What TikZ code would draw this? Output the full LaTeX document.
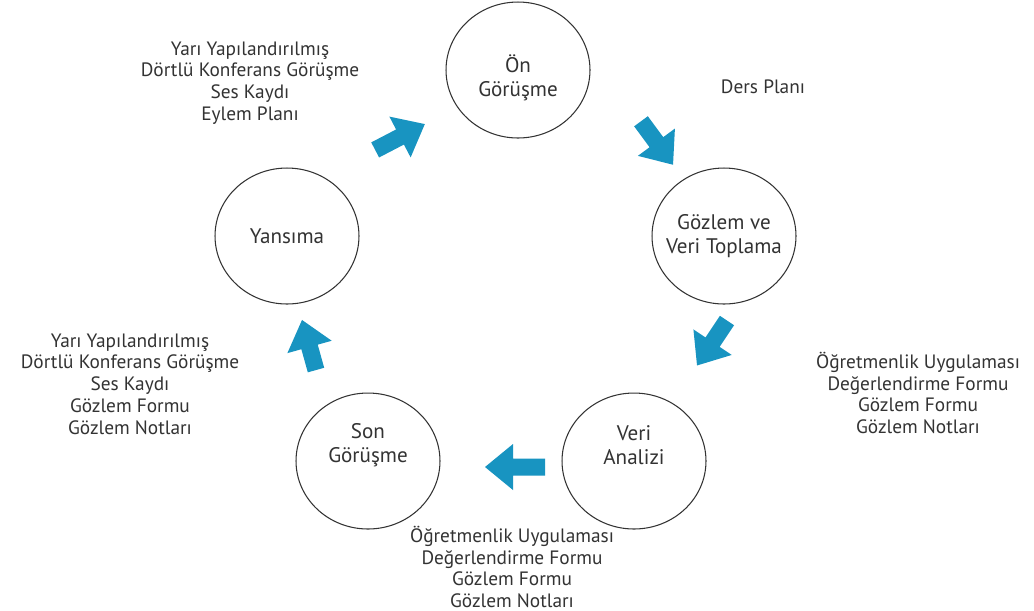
\documentclass[tikz,border=0pt]{standalone}
\usepackage{fontspec}
\setmainfont{PT Sans}
\usepackage{xcolor}
\usetikzlibrary{shapes.geometric}
\definecolor{arrblue}{RGB}{24,148,193}

% block arrow: centre (x,y), angle, half length
\newcommand{\blockarrow}[4]{%
  \fill[arrblue, shift={(#1,#2)}, rotate=#3]
    (-#4,-8.5) -- (#4-28,-8.5) -- (#4-28,-23) -- (#4,0)
    -- (#4-28,23) -- (#4-28,8.5) -- (-#4,8.5) -- cycle;}

\begin{document}
\begin{tikzpicture}[x=0.02cm, y=-0.02cm,
  stage/.style={ellipse, draw=black!80, line width=0.6pt,
    minimum width=2.88cm, minimum height=2.72cm},
  stagetext/.style={align=center, font=\fontsize{12}{13.4}\selectfont, text=black!80},
  tools/.style={align=center, font=\fontsize{11}{12.4}\selectfont, text=black!80}]
\useasboundingbox[fill=white] (0,0) rectangle (1034,610);
% ---- stages ----
\node[stage] (on) at (518,70) {};
\node[stage] (gozlem) at (724,236) {};
\node[stage] (veri) at (634,461) {};
\node[stage] (son) at (368,461) {};
\node[stage] (yansima) at (287,236) {};
\node[stagetext] (onT) at (518,78) {Ön\\Görüşme};
\node[stagetext] (gozlemT) at (724,236) {Gözlem ve\\Veri Toplama};
\node[stagetext] (veriT) at (634,445) {Veri\\Analizi};
\node[stagetext] (sonT) at (368,445) {Son\\Görüşme};
\node[stagetext] (yansimaT) at (287,236) {Yansıma};
% ---- arrows between stages ----
\blockarrow{400}{137}{27.5}{28}
\blockarrow{657}{143}{-53.6}{27}
\blockarrow{712}{343}{-123.7}{27}
\blockarrow{515}{467}{180}{30}
\blockarrow{309}{345}{105.6}{26}
% ---- data sources ----
\node[tools] (arac1) at (250,83)
  {Yarı Yapılandırılmış\\Dörtlü Konferans Görüşme\\Ses Kaydı\\Eylem Planı};
\node[tools] (arac2) at (763,87) {Ders Planı};
\node[tools] (arac3) at (918,393)
  {Öğretmenlik Uygulaması\\Değerlendirme Formu\\Gözlem Formu\\Gözlem Notları};
\node[tools] (arac4) at (512,567)
  {Öğretmenlik Uygulaması\\Değerlendirme Formu\\Gözlem Formu\\Gözlem Notları};
\node[tools] (arac5) at (130,384)
  {Yarı Yapılandırılmış\\Dörtlü Konferans Görüşme\\Ses Kaydı\\Gözlem Formu\\Gözlem Notları};
\end{tikzpicture}
\end{document}
